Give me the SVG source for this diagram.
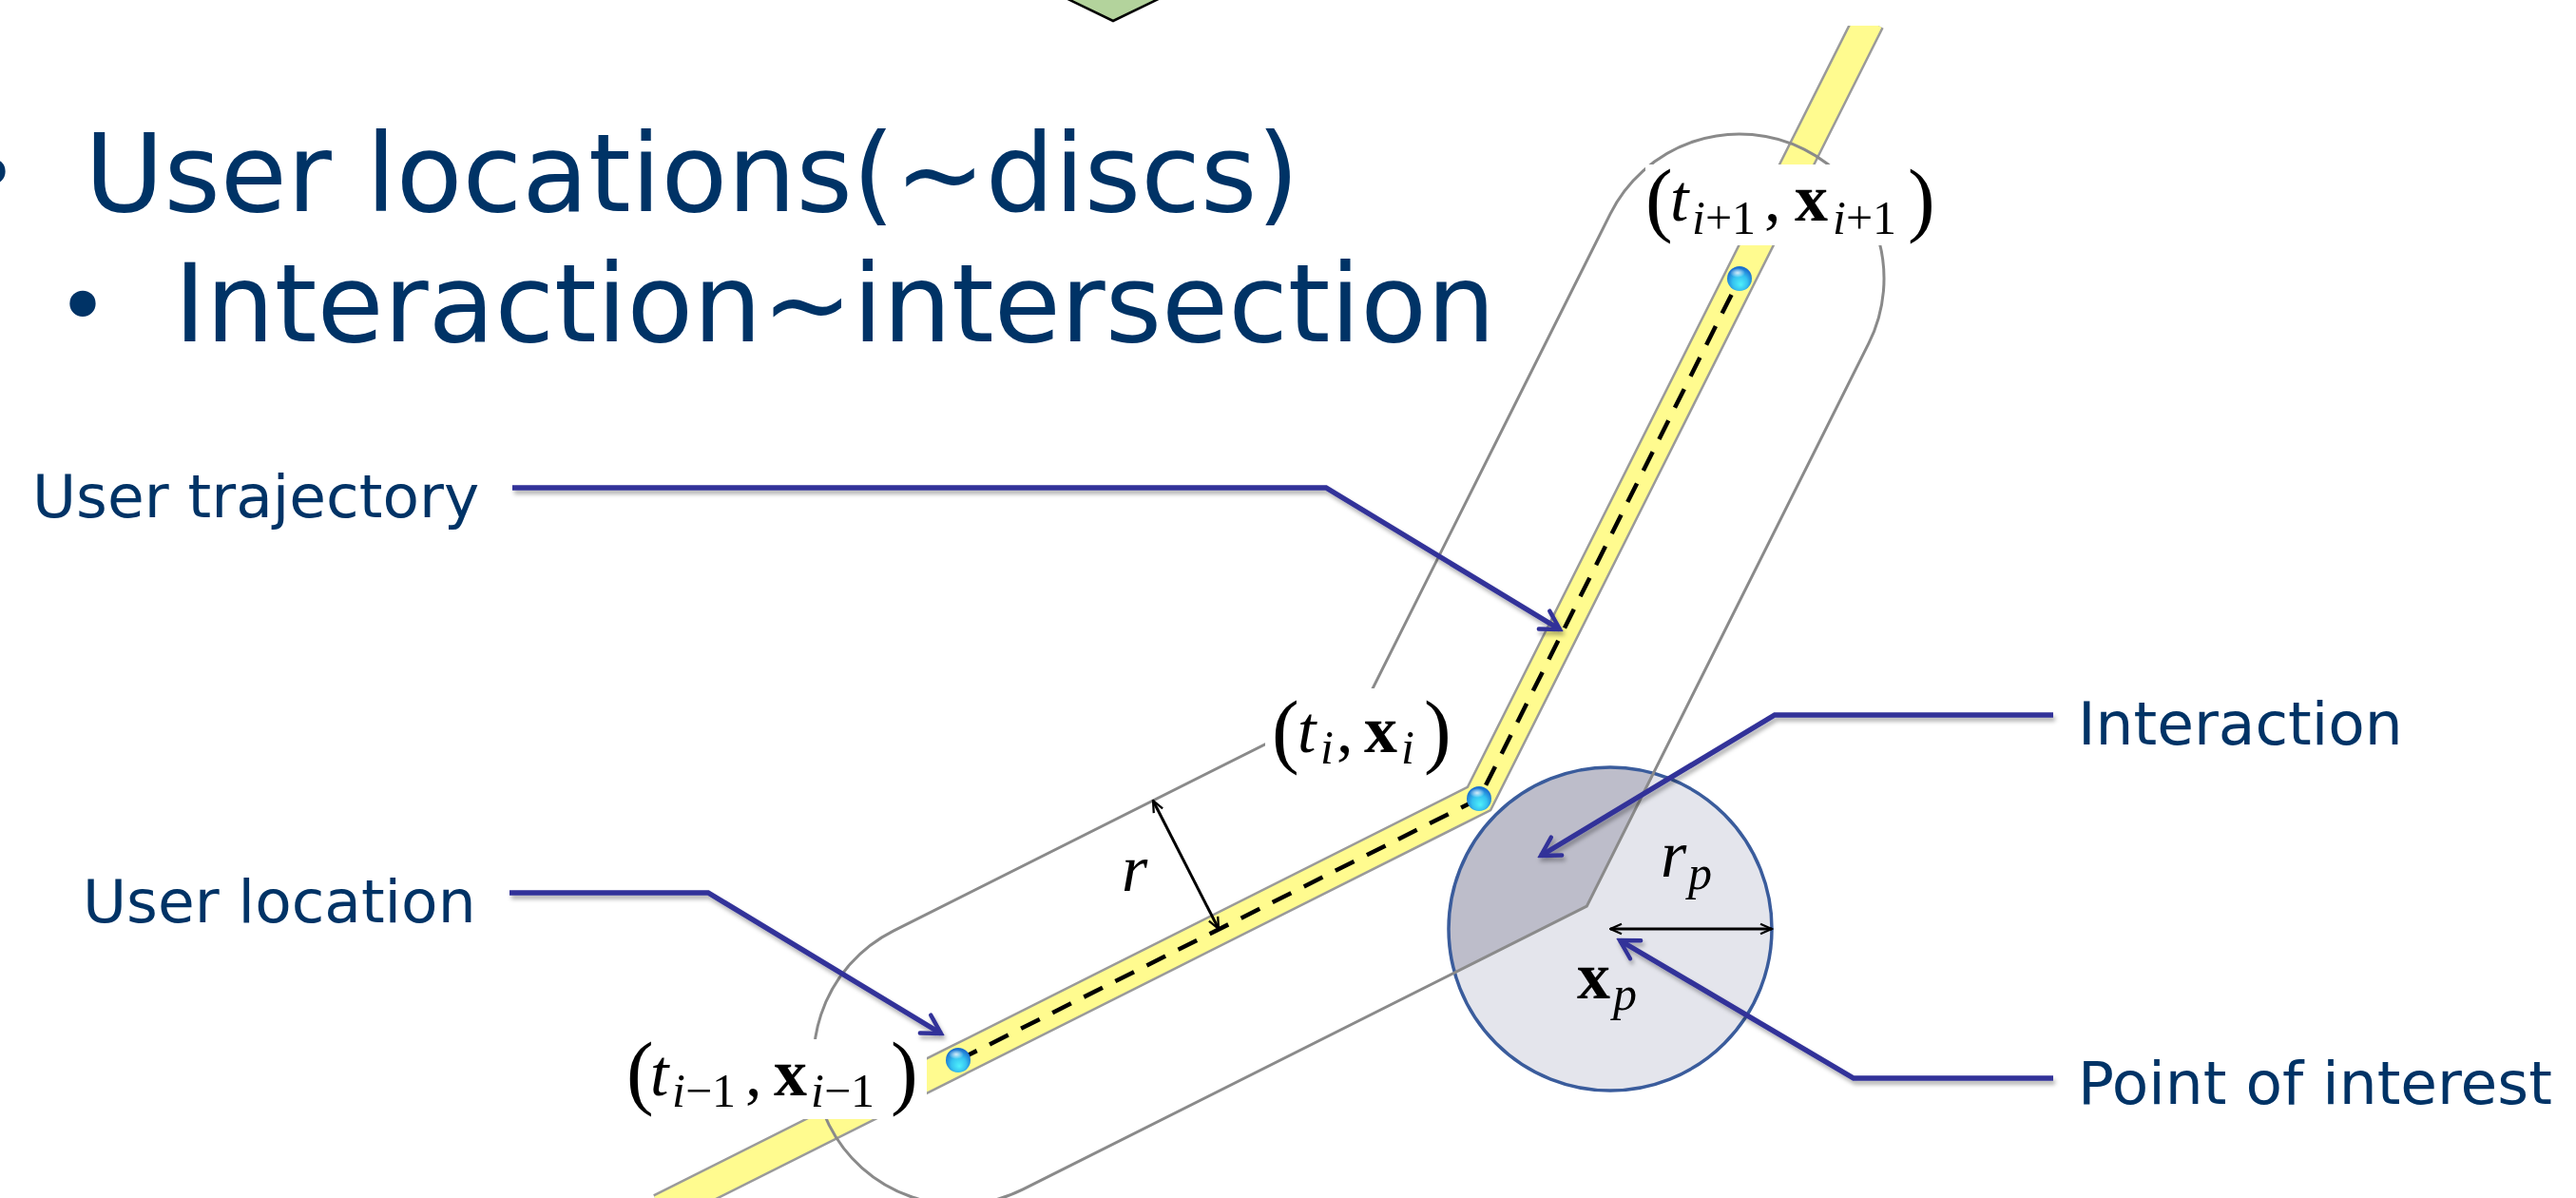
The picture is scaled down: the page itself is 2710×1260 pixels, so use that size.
<svg xmlns="http://www.w3.org/2000/svg" width="2710" height="1260" viewBox="0 0 2710 1260">
<style>
.title{font-family:"DejaVu Sans",Verdana,sans-serif;font-size:114px;fill:#003366}
.bul{font-family:"DejaVu Sans",sans-serif;font-size:94px;fill:#003366}
.lbl{font-family:"DejaVu Sans",Verdana,sans-serif;font-size:63px;fill:#003366}
.m{font-family:"Liberation Serif","Times New Roman",serif;fill:#000;font-size:70px}
.it{font-style:italic}
.bf{font-weight:bold;font-size:70px}
.sub{font-size:50px;font-style:italic}
.subu{font-size:50px}
.par{font-size:86px}
.conn{fill:none;stroke:#333399;stroke-width:5.5;stroke-linejoin:miter;marker-end:url(#ah)}
.dim{fill:none;stroke:#000;stroke-width:3;marker-start:url(#bk);marker-end:url(#bk)}
.cap{fill:none;stroke:#8a8a8a;stroke-width:3;stroke-linejoin:miter}
.box{fill:#fff}
</style>
<defs>
<marker id="ah" viewBox="0 0 10 10" refX="8.5" refY="5" markerWidth="5" markerHeight="5" orient="auto" markerUnits="strokeWidth">
<path d="M1.5,1 L8.5,5 L1.5,9" fill="none" stroke="#333399" stroke-width="1.6" stroke-linecap="round"/>
</marker>
<marker id="bk" viewBox="0 0 10 10" refX="9" refY="5" markerWidth="5" markerHeight="5" orient="auto-start-reverse" markerUnits="strokeWidth">
<path d="M1,1.5 L9,5 L1,8.5" fill="none" stroke="#000" stroke-width="1.5"/>
</marker>
<radialGradient id="ball" cx="0.5" cy="0.6" r="0.55" fx="0.55" fy="0.75">
<stop offset="0" stop-color="#4ff0fb"/>
<stop offset="0.55" stop-color="#35c2f0"/>
<stop offset="1" stop-color="#1a6fcf"/>
</radialGradient>
<radialGradient id="hl" cx="0.5" cy="0.5" r="0.5">
<stop offset="0" stop-color="#ffffff" stop-opacity="0.8"/>
<stop offset="1" stop-color="#ffffff" stop-opacity="0"/>
</radialGradient>
<clipPath id="disc"><circle cx="1694" cy="977" r="170"/></clipPath>
<clipPath id="roadclip"><rect x="0" y="27" width="2710" height="1233"/></clipPath>
<filter id="sh" filterUnits="userSpaceOnUse" x="0" y="0" width="2710" height="1260">
<feDropShadow dx="2" dy="4" stdDeviation="2" flood-color="#000" flood-opacity="0.3"/>
</filter>
</defs>

<rect width="2710" height="1260" fill="#fff"/>

<g id="top-shape">
<polygon points="1080,-22 1171,22 1262,-22" fill="#b3d39c" stroke="#000" stroke-width="2.5"/>
</g>

<g id="title">
<text class="bul" x="-8" y="215" text-anchor="middle">•</text>
<text class="title" x="89" y="222">User locations(~discs)</text>
<text class="bul" x="87" y="354" text-anchor="middle">•</text>
<text class="title" x="183" y="359">Interaction~intersection</text>
</g>

<g id="poi-disc">
<circle cx="1694" cy="977" r="170" fill="#e4e5ec"/>
<path d="M939.8,979.1 L1442.7,726.8 L1694.1,224.9 A152,152 0 0 1 1965.9,361.1 L1669.3,953.2 L1076.2,1250.9 A152,152 0 0 1 939.8,979.1 Z" fill="#bdbdca" clip-path="url(#disc)"/>
<circle cx="1694" cy="977" r="170" fill="none" stroke="#3a5c9c" stroke-width="3.5"/>
</g>

<g id="road" clip-path="url(#roadclip)">
<polyline points="695,1272 1008,1115 1556,840 1830,293 1966,22" fill="none" stroke="#9a9a9a" stroke-width="35" stroke-linejoin="miter"/>
<polyline points="695,1272 1008,1115 1556,840 1830,293 1966,22" fill="none" stroke="#fffb8f" stroke-width="30" stroke-linejoin="miter"/>
</g>

<g id="capsule">
<path class="cap" d="M939.8,979.1 L1442.7,726.8 L1694.1,224.9 A152,152 0 0 1 1965.9,361.1 L1669.3,953.2 L1076.2,1250.9 A152,152 0 0 1 939.8,979.1 Z"/>
</g>

<g id="trajectory">
<polyline points="1008,1115 1556,840 1830,293" fill="none" stroke="#000" stroke-width="4.5" stroke-dasharray="22 15" stroke-linejoin="miter"/>
</g>

<g id="point-prev">
<circle cx="1008" cy="1115" r="13" fill="url(#ball)"/>
<ellipse cx="1006" cy="1109" rx="8" ry="5" fill="url(#hl)"/>
</g>
<g id="point-cur">
<circle cx="1556" cy="840" r="13" fill="url(#ball)"/>
<ellipse cx="1554" cy="834" rx="8" ry="5" fill="url(#hl)"/>
</g>
<g id="point-next">
<circle cx="1830" cy="293" r="13" fill="url(#ball)"/>
<ellipse cx="1828" cy="287" rx="8" ry="5" fill="url(#hl)"/>
</g>

<g id="label-next">
<rect class="box" x="1731" y="173" width="305" height="85"/>
<text class="m">
<tspan class="par" x="1731" y="238">(</tspan>
<tspan class="it" x="1757" y="232">t</tspan>
<tspan class="sub" x="1780" y="246">i</tspan><tspan class="subu">+1</tspan>
<tspan x="1856" y="232">,</tspan>
<tspan class="bf" x="1888" y="232">x</tspan>
<tspan class="sub" x="1928" y="246">i</tspan><tspan class="subu">+1</tspan>
<tspan class="par" x="2007" y="238">)</tspan>
</text>
</g>

<g id="label-cur">
<rect class="box" x="1331" y="724" width="195" height="92"/>
<text class="m">
<tspan class="par" x="1338" y="797">(</tspan>
<tspan class="it" x="1365" y="791">t</tspan>
<tspan class="sub" x="1389" y="803">i</tspan>
<tspan x="1406" y="791">,</tspan>
<tspan class="bf" x="1435" y="791">x</tspan>
<tspan class="sub" x="1474" y="803">i</tspan>
<tspan class="par" x="1498" y="797">)</tspan>
</text>
</g>

<g id="label-prev">
<rect class="box" x="650" y="1093" width="325" height="84"/>
<text class="m">
<tspan class="par" x="659" y="1156">(</tspan>
<tspan class="it" x="684" y="1152">t</tspan>
<tspan class="sub" x="707" y="1164">i</tspan><tspan class="subu">−1</tspan>
<tspan x="784" y="1152">,</tspan>
<tspan class="bf" x="814" y="1152">x</tspan>
<tspan class="sub" x="853" y="1164">i</tspan><tspan class="subu">−1</tspan>
<tspan class="par" x="937" y="1156">)</tspan>
</text>
</g>

<g id="radius-r">
<line class="dim" x1="1213" y1="842" x2="1282" y2="977"/>
<text class="m it" x="1180" y="937" font-size="72">r</text>
</g>

<g id="radius-rp">
<line class="dim" x1="1694" y1="977" x2="1864" y2="977"/>
<text class="m"><tspan class="it" x="1747" y="922">r</tspan><tspan class="sub" x="1776" y="935">p</tspan></text>
<text class="m"><tspan class="bf" x="1659" y="1050">x</tspan><tspan class="sub" x="1697" y="1062">p</tspan></text>
</g>

<g id="labels">
<text class="lbl" x="34" y="544">User trajectory</text>
<text class="lbl" x="87" y="970">User location</text>
<text class="lbl" x="2186" y="783">Interaction</text>
<text class="lbl" x="2186" y="1161">Point of interest</text>
</g>

<g id="connectors" filter="url(#sh)">
<path class="conn" d="M539,513 L1395,513 L1641,662"/>
<path class="conn" d="M536,939 L745,939 L990,1087"/>
<path class="conn" d="M2160,752 L1867,752 L1621,900"/>
<path class="conn" d="M2160,1134 L1950,1134 L1704,989"/>
</g>
</svg>
